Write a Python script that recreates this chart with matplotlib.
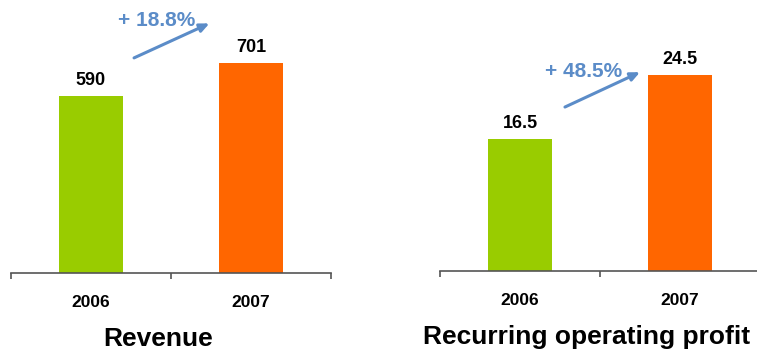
import matplotlib.pyplot as plt

plt.rcParams['font.family'] = ['Liberation Sans', 'DejaVu Sans']
plt.rcParams['font.weight'] = 'bold'

years = ['2006', '2007']
revenue = [590, 701]
profit = [16.5, 24.5]
bar_colors = ['#99CC00', '#FF6600']
arrow_blue = '#5B8CC8'

W, H = 757, 354
fig = plt.figure(figsize=(W / 100, H / 100), dpi=100)


def px_axes(left, right, bottom_from_top):
    # axes box in pixels, top edge at figure top
    return fig.add_axes([left / W, (H - bottom_from_top) / H,
                         (right - left) / W, bottom_from_top / H])


def panel(ax, values, ymax, fmt, growth, arrow_from, arrow_to, text_xy):
    x = range(len(values))
    ax.bar(x, values, width=0.406, color=bar_colors)
    ax.set_xlim(-0.5, 1.5)
    ax.set_ylim(0, ymax)
    for s in ['top', 'left', 'right']:
        ax.spines[s].set_visible(False)
    ax.spines['bottom'].set_color('#555555')
    ax.spines['bottom'].set_linewidth(1.2)
    ax.set_yticks([])
    ax.set_xticks(list(x))
    ax.set_xticklabels(years, fontsize=12.5, fontweight='bold')
    ax.tick_params(axis='x', which='major', length=0, pad=16)
    ax.set_xticks([-0.5, 0.5, 1.5], minor=True)
    ax.tick_params(axis='x', which='minor', length=4.5, width=1.2,
                   color='#555555')
    for i, v in enumerate(values):
        ax.annotate(fmt.format(v), (i, v), xytext=(0, 5),
                    textcoords='offset points', ha='center', va='bottom',
                    fontsize=13, fontweight='bold', annotation_clip=False)
    ax.annotate('', xy=arrow_to, xytext=arrow_from,
                arrowprops=dict(arrowstyle='-|>,head_length=0.55,head_width=0.25',
                                color=arrow_blue, lw=2.2, shrinkA=0, shrinkB=0),
                annotation_clip=False)
    ax.text(text_xy[0], text_xy[1], growth, ha='center', va='center',
            fontsize=15, fontweight='bold', color=arrow_blue, clip_on=False)


ax1 = px_axes(11, 331, 273)
panel(ax1, revenue, 910, '{:.0f}', '+ 18.8%',
      (0.269, 717), (0.74, 832), (0.41, 840))

ax2 = px_axes(440, 760, 271)
panel(ax2, profit, 33.8, '{:.1f}', '+ 48.5%',
      (0.281, 20.45), (0.75, 24.8), (0.40, 24.9))

fig.text(158 / W, 1 - 339 / H, 'Revenue', ha='center', va='center',
         fontsize=19, fontweight='bold')
fig.text(587 / W, 1 - 337 / H, 'Recurring operating profit', ha='center',
         va='center', fontsize=19, fontweight='bold')

fig.savefig('out.png', dpi=100)
